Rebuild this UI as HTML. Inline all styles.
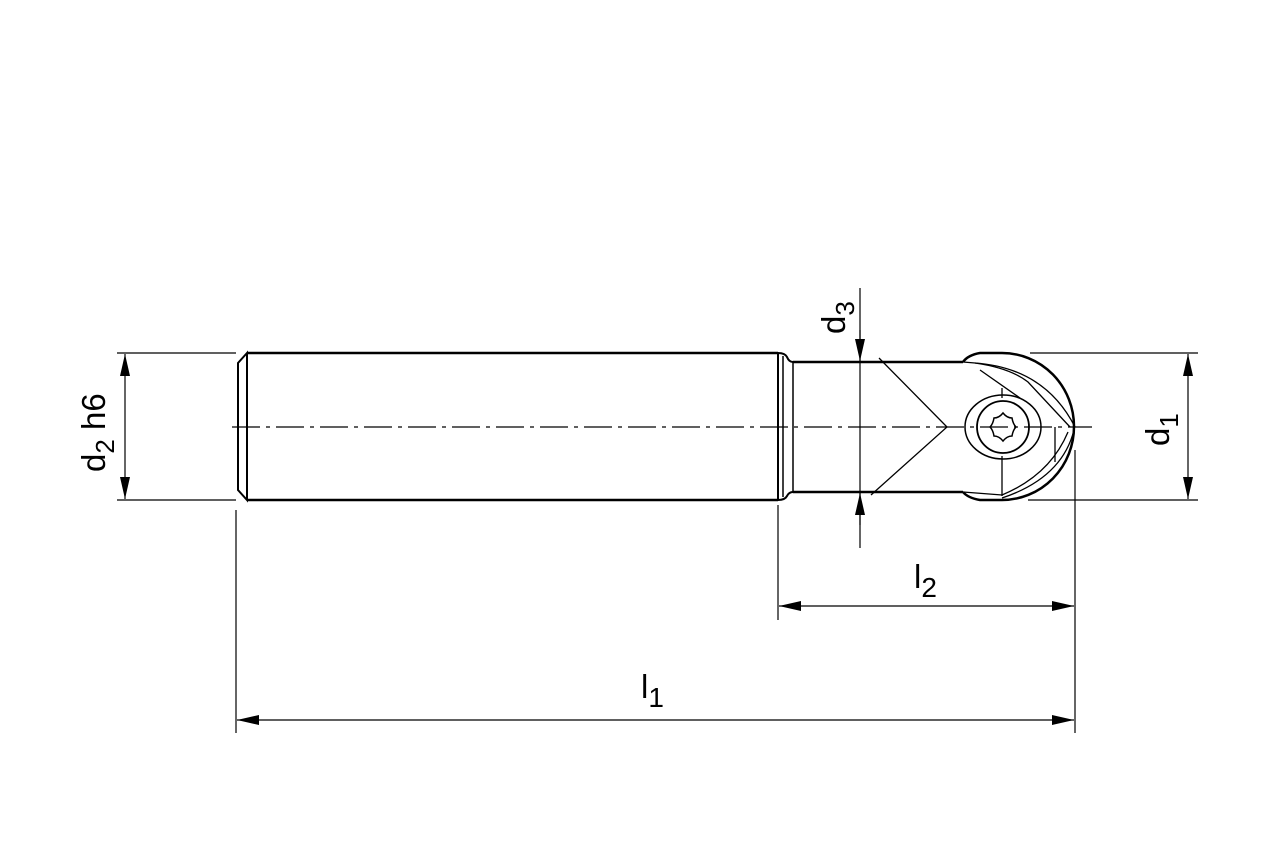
<!DOCTYPE html>
<html><head><meta charset="utf-8"><style>html,body{margin:0;padding:0;background:#fff}svg{display:block}</style></head>
<body>
<svg width="1280" height="853" viewBox="0 0 1280 853" xmlns="http://www.w3.org/2000/svg" font-family="Liberation Sans, Arial, sans-serif">
<defs>
<marker id="a" viewBox="0 0 22 10" refX="22" refY="5" markerWidth="22" markerHeight="10" markerUnits="userSpaceOnUse" orient="auto"><path d="M0,0 L22,5 L0,10 Z" fill="#000"/></marker>
</defs>
<g stroke="#000" fill="none">
<path d="M247,353 L778,353 M247,500 L778,500" stroke-width="2.5"/>
<path d="M247,353 L238,363 L238,490 L247,500 Z" stroke-width="2"/>
<line x1="247" y1="353" x2="247" y2="500" stroke-width="2"/>
<path d="M778,353 L778,500 M778,353 Q785,353 787,357 Q789,362 793,362 M778,500 Q785,500 787,496 Q789,492 793,492" stroke-width="2"/>
<line x1="783" y1="356" x2="783" y2="497" stroke-width="1.5"/>
<line x1="793" y1="362" x2="793" y2="492" stroke-width="1.5"/>
<path d="M793,362 L963,362 M793,492 L963,492" stroke-width="2.5"/>
<path d="M879,358 L947,427 L871,495" stroke-width="1.3"/>
<path d="M963,362 Q968,355 980,353 L1002,353 A72,73.5 0 0 1 1002,500 L980,500 Q968,498 963,492" stroke-width="2.5"/>
<path d="M963,362 L975,363 Q1045,368 1075,427" stroke-width="1.3"/>
<path d="M975,363 Q1010,368 1028,382 L1070,427" stroke-width="1.3"/>
<path d="M980,370 L1020,398 M1068,432 Q1050,475 1002,495 L963,492" stroke-width="1.3"/>
<path d="M1074,430 Q1062,478 1002,498" stroke-width="1.3"/>
<line x1="1002" y1="388" x2="1002" y2="398" stroke-width="1.3"/>
<line x1="1002" y1="456" x2="1002" y2="496" stroke-width="1.3"/>
<line x1="1055" y1="427" x2="1055" y2="462" stroke-width="1.3"/>
<ellipse cx="1003" cy="427" rx="38" ry="32" stroke-width="1.5"/>
<circle cx="1003" cy="427" r="26" stroke-width="1.8"/>
<path d="M1003,413 Q1007,418 1012,418 Q1013,424 1016,427 Q1013,430 1012,436 Q1007,436 1003,441 Q999,436 994,436 Q993,430 990,427 Q993,424 994,418 Q999,418 1003,413 Z" stroke-width="1.5"/>
<line x1="232" y1="427" x2="1092" y2="427" stroke-width="1.2" stroke-dasharray="28,6,4,6"/>
<g stroke-width="1.2">
<line x1="117" y1="353" x2="236" y2="353"/>
<line x1="117" y1="500" x2="236" y2="500"/>
<line x1="1030" y1="353" x2="1198" y2="353"/>
<line x1="1028" y1="500" x2="1198" y2="500"/>
<line x1="236" y1="510" x2="236" y2="733"/>
<line x1="778" y1="505" x2="778" y2="620"/>
<line x1="1075" y1="450" x2="1075" y2="733"/>
<line x1="860" y1="288" x2="860" y2="548"/>
</g>
<g stroke-width="1.2">
<line x1="125" y1="427" x2="125" y2="354" marker-end="url(#a)"/>
<line x1="125" y1="427" x2="125" y2="499" marker-end="url(#a)"/>
<line x1="1188" y1="427" x2="1188" y2="354" marker-end="url(#a)"/>
<line x1="1188" y1="427" x2="1188" y2="499" marker-end="url(#a)"/>
<line x1="860" y1="330" x2="860" y2="361" marker-end="url(#a)"/>
<line x1="860" y1="525" x2="860" y2="493" marker-end="url(#a)"/>
<line x1="926" y1="606" x2="779" y2="606" marker-end="url(#a)"/>
<line x1="926" y1="606" x2="1074" y2="606" marker-end="url(#a)"/>
<line x1="650" y1="720" x2="237" y2="720" marker-end="url(#a)"/>
<line x1="650" y1="720" x2="1074" y2="720" marker-end="url(#a)"/>
</g>
</g>
<g fill="#000" font-size="33">
<text transform="translate(105,472) rotate(-90)">d<tspan font-size="26" dy="9">2</tspan><tspan dy="-9"> h6</tspan></text>
<text transform="translate(845,334) rotate(-90)">d<tspan font-size="26" dy="9">3</tspan></text>
<text transform="translate(1169,446) rotate(-90)">d<tspan font-size="26" dy="9">1</tspan></text>
<text x="914" y="588">l<tspan font-size="28" dy="9">2</tspan></text>
<text x="641" y="698">l<tspan font-size="28" dy="9">1</tspan></text>
</g>
</svg>
</body></html>
